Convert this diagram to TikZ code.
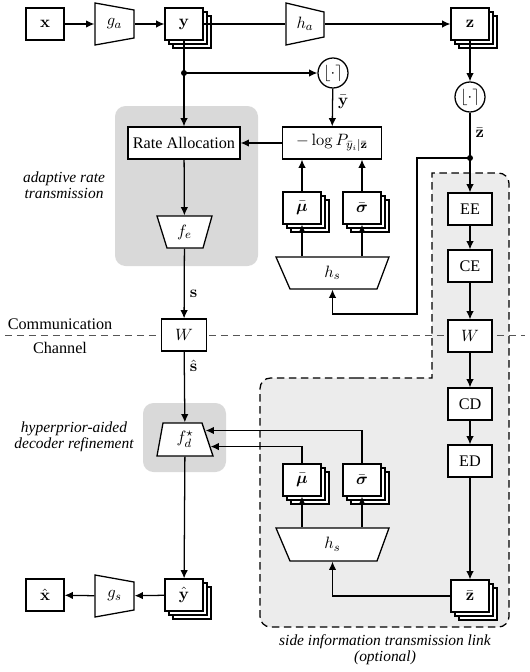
\documentclass[tikz,border=0pt]{standalone}
\usepackage{amsmath}
\usepackage{bm}
\usepackage[no-math]{fontspec}
\setmainfont{Liberation Serif}
\usetikzlibrary{arrows.meta, positioning, calc, shadows}
\definecolor{cregion}{HTML}{D9D9D9}
\definecolor{cside}{HTML}{ECECEC}
\definecolor{cdash}{HTML}{555555}
\tikzset{
  every picture/.style={line width=0.85pt},
  box/.style={draw, fill=white, align=center, inner sep=2pt, minimum width=25.3pt, minimum height=21.3pt},
  stack/.style={box,
    copy shadow={draw, fill=white, shadow xshift=5.3pt, shadow yshift=-5.3pt},
    copy shadow={draw, fill=white, shadow xshift=2.7pt, shadow yshift=-2.7pt}},
  trap/.style={inner sep=0pt, minimum width=#1},
  rnd/.style={draw, fill=white, circle, minimum size=20pt, inner sep=0pt},
  arrow/.style={-{Latex[length=5.5pt, width=5pt]}},
  note/.style={font=\rmfamily\fontsize{10.3}{10.7}\selectfont\itshape, align=center},
  outline/.style={draw, fill=white},
}

\begin{document}
\begin{tikzpicture}[x=0.6667pt, y=-0.6667pt, font=\rmfamily\fontsize{10.8}{13}\selectfont]
  \useasboundingbox (0,0) rectangle (529,672);

  % shaded regions and channel line
  \fill[cregion, rounded corners=7pt] (115,106) rectangle (258,266);
  \fill[cregion, rounded corners=7pt] (143,403) rectangle (226,472);
  \draw[fill=cside, dash pattern=on 5pt off 3pt] (346,378) -- (432,378) [sharp corners] -- (432,173)
    [rounded corners=7pt] -- (509,173) -- (509,627) -- (260,627) -- (260,378) -- cycle;
  \draw[cdash, line width=0.6pt, dash pattern=on 5pt off 3pt] (5,335) -- (525,335);

  % encoder row
  \node[box] (x) at (45,24) {$\mathbf{x}$};
  \draw[outline] (95,3) -- (134,10) -- (134,38) -- (95,45) -- cycle
    (114.5,24) node[trap=26pt, minimum height=28pt] (ga) {$g_a$};
  \node[stack] (y) at (184,24) {$\mathbf{y}$};
  \draw[outline] (286,3) -- (324,12) -- (324,37) -- (286,45) -- cycle
    (305,24) node[trap=25.3pt, minimum height=28pt] (ha) {$h_a$};
  \node[stack] (z) at (470,24) {$\mathbf{z}$};

  % rate allocation branch
  \coordinate (split) at (184,73);
  \node[rnd] (qy) at (333,73) {$\lfloor\cdot\rceil$};
  \node[box, minimum width=66pt] (logp) at (332,143) {$-\log P_{\bar{y}_i|\bar{\mathbf{z}}}$};
  \node[box, minimum width=74.7pt] (ra) at (184,143) {Rate Allocation};
  \node[stack] (mu1) at (302,208) {$\bar{\bm{\mu}}$};
  \node[stack] (sg1) at (362,208) {$\bar{\bm{\sigma}}$};
  \draw[outline] (276,257) -- (389,257) -- (377,289) -- (290,289) -- cycle
    (332.5,273) node[trap=75.3pt, minimum height=21.3pt] (hs1) {$h_s$};
  \draw[outline] (157,216) -- (212,216) -- (203,248) -- (167,248) -- cycle
    (184.5,232) node[trap=36.7pt, minimum height=21.3pt] (fe) {$f_e$};
  \node[box, minimum width=30pt] (w1) at (184,335) {$W$};

  % side information link
  \node[rnd] (qz) at (470,97) {$\lfloor\cdot\rceil$};
  \coordinate (zdot) at (470,158);
  \coordinate (bend) at (417,314);
  \node[box, minimum width=29.3pt] (ee) at (470,209) {EE};
  \node[box, minimum width=29.3pt] (ce) at (470,266) {CE};
  \node[box, minimum width=29.3pt] (w2) at (470,336) {$W$};
  \node[box, minimum width=29.3pt] (cd) at (470,404) {CD};
  \node[box, minimum width=29.3pt] (ed) at (470,461) {ED};
  \node[stack] (zb) at (470,596) {$\bar{\mathbf{z}}$};
  \node[stack] (mu2) at (302,480) {$\bar{\bm{\mu}}$};
  \node[stack] (sg2) at (362,480) {$\bar{\bm{\sigma}}$};
  \draw[outline] (276,528) -- (389,528) -- (377,561) -- (290,561) -- cycle
    (332.5,544.5) node[trap=75.3pt, minimum height=22pt] (hs2) {$h_s$};

  % decoder
  \draw[outline] (163,423) -- (202,423) -- (213,456) -- (157,456) -- cycle
    (185,439.5) node[trap=37.3pt, minimum height=22pt] (fd) {$f_d^{\star}$};
  \node[stack] (yh) at (184,595) {$\hat{\mathbf{y}}$};
  \draw[outline] (95,575) -- (134,582) -- (134,610) -- (95,617) -- cycle
    (114.5,596) node[trap=26pt, minimum height=28pt] (gs) {$g_s$};
  \node[box] (xh) at (45,595) {$\hat{\mathbf{x}}$};

  % labels
  \node[note] at (64,185) {adaptive rate\\transmission};
  \node[note] at (74,437) {hyperprior-aided\\decoder refinement};
  \node[note] at (385,650) {side information transmission link\\(optional)};
  \node at (60,324) {Communication};
  \node at (60,348) {Channel};

  % connectors
  \draw[arrow] (x) -- (ga);
  \draw[arrow] (ga) -- (y);
  \draw (y) -- (ha);
  \draw[arrow] (ha) -- (z);
  \draw[arrow] (y) -- (ra);
  \fill (split) circle (2pt);
  \draw[arrow] (split) -- (qy);
  \draw[arrow] (qy) -- node[right, pos=0.35] {$\bar{\mathbf{y}}$} (logp);
  \draw[arrow] (logp) -- (ra);
  \draw[arrow] (ra) -- (fe);
  \draw[arrow] (fe) -- node[right, pos=0.65] {$\mathbf{s}$} (w1);
  \draw[arrow] (w1) -- node[right, pos=0.2] {$\hat{\mathbf{s}}$} (fd);
  \draw[arrow] (fd) -- (yh);
  \draw[arrow] (yh) -- (gs);
  \draw[arrow] (gs) -- (xh);

  \draw[arrow] (hs1.north -| mu1) -- (mu1);
  \draw[arrow] (hs1.north -| sg1) -- (sg1);
  \draw[arrow] (mu1) -- (mu1 |- logp.south);
  \draw[arrow] (sg1) -- (sg1 |- logp.south);

  \draw[arrow] (z) -- (qz);
  \draw (qz) -- node[right, pos=0.45] {$\bar{\mathbf{z}}$} (zdot);
  \fill (zdot) circle (2pt);
  \draw[arrow] (zdot) -- (ee);
  \draw[arrow] (zdot) -| (bend) -| (hs1.south);
  \draw[arrow] (ee) -- (ce);
  \draw[arrow] (ce) -- (w2);
  \draw[arrow] (w2) -- (cd);
  \draw[arrow] (cd) -- (ed);
  \draw[arrow] (ed) -- (zb);
  \draw[arrow] (zb) -| (hs2.south);

  \draw[arrow] (hs2.north -| mu2) -- (mu2);
  \draw[arrow] (hs2.north -| sg2) -- (sg2);
  \draw[arrow] (sg2.north) |- ($(fd.east)+(-5.3pt,6pt)$);
  \draw[arrow] (mu2.north) |- ($(fd.east)+(-2pt,-4.7pt)$);
\end{tikzpicture}
\end{document}
